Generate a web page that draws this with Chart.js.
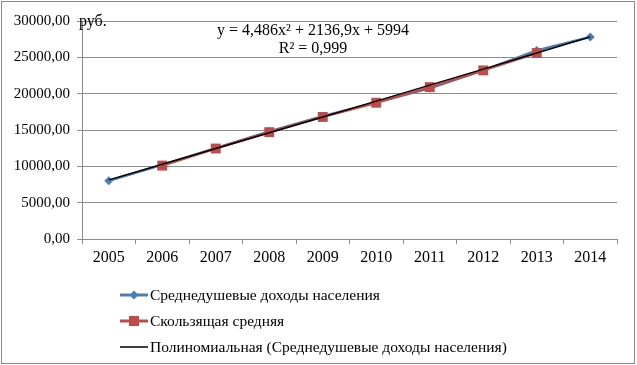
<!DOCTYPE html>
<html>
<head>
<meta charset="utf-8">
<script src="https://cdn.jsdelivr.net/npm/chart.js@4.4.1/dist/chart.umd.min.js"></script>
<style>
  html, body { margin: 0; padding: 0; background: #fff; }
  #wrap { width: 637px; height: 365px; position: relative; }
</style>
</head>
<body>
<div id="wrap"><canvas id="incomeChart" width="637" height="365"></canvas></div>
<script>
// данные
const years = ['2005', '2006', '2007', '2008', '2009', '2010', '2011', '2012', '2013', '2014'];
const incomes = [8000, 10200, 12500, 14800, 16900, 18800, 20750, 23200, 25950, 27800];
const movingAvg = [null, 10100, 12450, 14700, 16800, 18750, 20900, 23200, 25600, null];
const trend = [8135, 10286, 12445, 14613, 16791, 18977, 21172, 23376, 25589, 27812];
const yTicks = [0, 5000, 10000, 15000, 20000, 25000, 30000];

const seriesNames = ['Среднедушевые доходы населения', 'Скользящая средняя', 'Полиномиальная (Среднедушевые доходы населения)'];
const equationText = ['y = 4,486x² + 2136,9x + 5994', 'R² = 0,999'];

const FONT = '"Liberation Serif", "Times New Roman", serif';
const BLUE = '#4A7EBB';
const RED = '#BE4B48';
const GRID = '#8c8c8c';

// рамка, подписи и легенда
const extras = {
    id: 'extras',
    afterDraw(chart) {
        const ctx = chart.ctx;
        ctx.save();
        // рамка диаграммы
        ctx.strokeStyle = '#8a8a8a';
        ctx.lineWidth = 1;
        ctx.strokeRect(1.5, 1.5, 633, 362);

        ctx.fillStyle = '#000';
        ctx.font = '16px ' + FONT;
        ctx.textBaseline = 'middle';
        ctx.textAlign = 'left';
        ctx.fillText('руб.', 79, 22);

        ctx.textAlign = 'center';
        ctx.fillText(equationText[0], 313, 31);
        ctx.fillText(equationText[1], 313, 49);

        // легенда
        const rows = [295, 321, 347];
        ctx.font = '15.5px ' + FONT;
        ctx.textAlign = 'left';
        rows.forEach((y, i) => {
            ctx.beginPath();
            ctx.moveTo(120, y);
            ctx.lineTo(148, y);
            ctx.strokeStyle = i === 0 ? BLUE : (i === 1 ? RED : '#000');
            ctx.lineWidth = i === 2 ? 1.5 : 3;
            ctx.stroke();
            if (i === 0) {
                ctx.fillStyle = BLUE;
                ctx.beginPath();
                ctx.moveTo(134, y - 4.5);
                ctx.lineTo(138.5, y);
                ctx.lineTo(134, y + 4.5);
                ctx.lineTo(129.5, y);
                ctx.closePath();
                ctx.fill();
            } else if (i === 1) {
                ctx.fillStyle = RED;
                ctx.fillRect(129, y - 5, 10, 10);
            }
            ctx.fillStyle = '#000';
            ctx.fillText(seriesNames[i], 150, y + 1);
        });
        ctx.restore();
    }
};

const ctx = document.getElementById('incomeChart').getContext('2d');
const incomeChart = new Chart(ctx, {
    type: 'line',
    data: {
        labels: years,
        datasets: [
            {
                label: seriesNames[0],
                data: incomes,
                borderColor: BLUE,
                backgroundColor: BLUE,
                borderWidth: 2.5,
                pointStyle: 'rectRot',
                pointRadius: 4.5,
                pointBorderWidth: 0,
                order: 3
            },
            {
                label: seriesNames[1],
                data: movingAvg,
                borderColor: RED,
                backgroundColor: RED,
                borderWidth: 2.5,
                pointStyle: 'rect',
                pointRadius: 7,
                pointBorderWidth: 0,
                order: 2
            },
            {
                label: seriesNames[2],
                data: trend,
                borderColor: '#000',
                borderWidth: 1.5,
                pointRadius: 0,
                cubicInterpolationMode: 'monotone',
                order: 1
            }
        ]
    },
    options: {
        responsive: false,
        animation: false,
        events: [],
        layout: { padding: { left: 0, right: 20, top: 21, bottom: 86 } },
        plugins: {
            legend: { display: false },
            tooltip: { enabled: false }
        },
        scales: {
            x: {
                offset: true,
                grid: {
                    offset: true,
                    drawOnChartArea: false,
                    drawTicks: true,
                    tickLength: 5,
                    color: GRID
                },
                border: { color: GRID },
                ticks: {
                    color: '#000',
                    font: { family: FONT, size: 16 },
                    padding: 4,
                    maxRotation: 0
                },
                afterFit(scale) { scale.height = 40; }
            },
            y: {
                min: 0,
                max: 30000,
                afterBuildTicks(scale) {
                    scale.ticks = yTicks.map(v => ({ value: v }));
                },
                grid: {
                    color: GRID,
                    tickLength: 5
                },
                border: { color: GRID },
                ticks: {
                    color: '#000',
                    font: { family: FONT, size: 15 },
                    padding: 7,
                    callback: (v) => v.toFixed(2).replace('.', ',')
                },
                afterFit(scale) { scale.width = 82; }
            }
        }
    },
    plugins: [extras]
});
</script>
</body>
</html>
